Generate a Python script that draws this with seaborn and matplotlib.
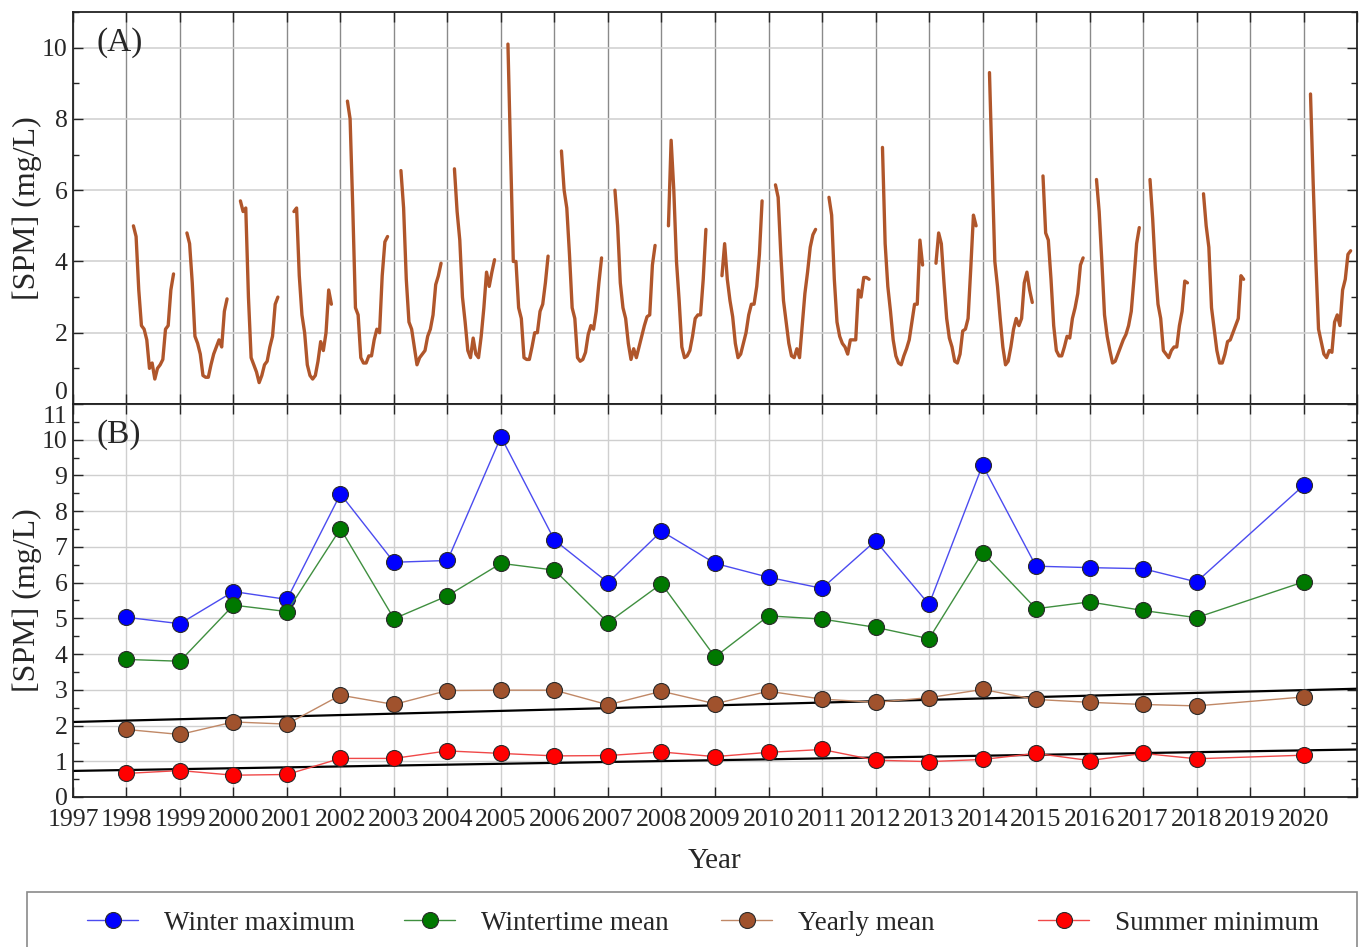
import numpy as np
import pandas as pd
import matplotlib.pyplot as plt
from matplotlib.ticker import MultipleLocator
from matplotlib.patches import Rectangle
from matplotlib.transforms import ScaledTranslation
import seaborn as sns

sns.set_style('ticks')
plt.rcParams['font.family'] = ['Liberation Serif', 'DejaVu Serif']

# ---- Panel A: SPM time series, sampled at these fractions of each year ----
year_frac = [0.13, 0.18, 0.23, 0.28, 0.33, 0.38, 0.43, 0.48, 0.53,
             0.58, 0.63, 0.68, 0.73, 0.78, 0.83, 0.88, 0.93]

spm_1998 = [5.0, 4.7, 3.2, 2.2, 2.1, 1.8, 1.0, 1.15, 0.7, 1.0, 1.1, 1.25, 2.1, 2.2, 3.2, 3.65]
spm_1999 = [4.8, 4.5, 3.4, 1.9, 1.7, 1.4, 0.8, 0.75, 0.75, 1.1, 1.4, 1.6, 1.8, 1.6, 2.6, 2.95]
spm_2000 = [5.7, 5.4, 5.5, 3.0, 1.3, 1.1, 0.9, 0.6, 0.8, 1.1, 1.2, 1.6, 1.9, 2.8, 3.0]
spm_2001 = [5.4, 5.5, 3.6, 2.5, 2.0, 1.1, 0.8, 0.7, 0.8, 1.2, 1.75, 1.5, 2.0, 3.2, 2.8]
spm_2002 = [8.5, 8.0, 5.5, 2.7, 2.5, 1.3, 1.15, 1.15, 1.35, 1.35, 1.8, 2.1, 2.0, 3.6, 4.55, 4.7]
spm_2003 = [6.55, 5.5, 3.5, 2.3, 2.1, 1.6, 1.1, 1.3, 1.4, 1.5, 1.9, 2.1, 2.5, 3.35, 3.6, 3.95]
spm_2004 = [6.6, 5.4, 4.6, 3.0, 2.3, 1.5, 1.3, 1.85, 1.4, 1.3, 1.9, 2.7, 3.7, 3.3, 3.7, 4.05]
spm_2005 = [10.1, 7.0, 4.0, 4.0, 2.7, 2.4, 1.3, 1.25, 1.25, 1.6, 2.0, 2.0, 2.6, 2.8, 3.4, 4.15]
spm_2006 = [7.1, 6.0, 5.5, 4.2, 2.7, 2.4, 1.3, 1.2, 1.25, 1.45, 1.95, 2.2, 2.1, 2.6, 3.4, 4.1]
spm_2007 = [6.0, 5.0, 3.4, 2.7, 2.4, 1.7, 1.25, 1.55, 1.3, 1.6, 1.9, 2.2, 2.45, 2.5, 3.9, 4.45]
spm_2008 = [5.0, 7.4, 6.0, 4.0, 2.9, 1.6, 1.3, 1.35, 1.5, 1.9, 2.4, 2.5, 2.5, 3.5, 4.9]
spm_2009 = [3.6, 4.5, 3.5, 2.9, 2.45, 1.7, 1.3, 1.4, 1.7, 2.0, 2.5, 2.8, 2.8, 3.3, 4.2, 5.7]
spm_2010 = [6.15, 5.8, 4.2, 2.9, 2.3, 1.7, 1.35, 1.3, 1.55, 1.3, 2.2, 3.1, 3.7, 4.4, 4.75, 4.9]
spm_2011 = [5.8, 5.3, 3.5, 2.3, 1.9, 1.7, 1.6, 1.4, 1.8, 1.8, 1.8, 3.2, 3.0, 3.55, 3.55, 3.5]
spm_2012 = [7.2, 4.5, 3.3, 2.6, 1.8, 1.35, 1.15, 1.1, 1.35, 1.55, 1.8, 2.3, 2.8, 2.8, 4.6, 3.9]
spm_2013 = [3.95, 4.8, 4.5, 3.4, 2.4, 1.85, 1.6, 1.2, 1.15, 1.4, 2.05, 2.1, 2.4, 3.8, 5.3, 5.0]
spm_2014 = [9.3, 6.6, 4.0, 3.3, 2.4, 1.6, 1.1, 1.2, 1.6, 2.1, 2.4, 2.2, 2.4, 3.4, 3.7, 3.2, 2.85]
spm_2015 = [6.4, 4.8, 4.6, 3.5, 2.2, 1.5, 1.35, 1.35, 1.6, 1.9, 1.85, 2.4, 2.7, 3.1, 3.9, 4.1]
spm_2016 = [6.3, 5.4, 4.0, 2.5, 1.9, 1.5, 1.15, 1.2, 1.4, 1.6, 1.8, 1.95, 2.2, 2.6, 3.5, 4.5, 4.95]
spm_2017 = [6.3, 5.2, 3.8, 2.8, 2.4, 1.5, 1.4, 1.3, 1.5, 1.6, 1.6, 2.2, 2.6, 3.45, 3.4]
spm_2018 = [5.9, 5.0, 4.4, 2.7, 2.1, 1.5, 1.15, 1.15, 1.4, 1.75, 1.8, 2.0, 2.2, 2.4, 3.6, 3.5]
spm_2020 = [8.7, 6.2, 4.0, 2.1, 1.75, 1.4, 1.3, 1.5, 1.45, 2.3, 2.5, 2.2, 3.2, 3.5, 4.2, 4.3]

years_a = [1998, 1999, 2000, 2001, 2002, 2003, 2004, 2005, 2006, 2007, 2008,
           2009, 2010, 2011, 2012, 2013, 2014, 2015, 2016, 2017, 2018, 2020]
series_a = [spm_1998, spm_1999, spm_2000, spm_2001, spm_2002, spm_2003, spm_2004,
            spm_2005, spm_2006, spm_2007, spm_2008, spm_2009, spm_2010, spm_2011,
            spm_2012, spm_2013, spm_2014, spm_2015, spm_2016, spm_2017, spm_2018,
            spm_2020]

# ---- Panel B: yearly statistics ----
years_b = [1998, 1999, 2000, 2001, 2002, 2003, 2004, 2005, 2006, 2007, 2008,
           2009, 2010, 2011, 2012, 2013, 2014, 2015, 2016, 2017, 2018, 2020]
winter_max = [5.03, 4.85, 5.75, 5.53, 8.48, 6.57, 6.62, 10.08, 7.19, 6.0, 7.44,
              6.54, 6.15, 5.84, 7.17, 5.39, 9.29, 6.46, 6.42, 6.39, 6.02, 8.72]
winter_mean = [3.85, 3.8, 5.37, 5.19, 7.51, 4.99, 5.63, 6.54, 6.35, 4.88, 5.97,
               3.92, 5.07, 4.98, 4.75, 4.43, 6.84, 5.27, 5.46, 5.22, 5.02, 6.02]
yearly_mean = [1.89, 1.75, 2.1, 2.04, 2.85, 2.59, 2.98, 2.99, 2.99, 2.58, 2.96,
               2.61, 2.96, 2.74, 2.65, 2.78, 3.01, 2.73, 2.65, 2.59, 2.55, 2.8]
summer_min = [0.66, 0.74, 0.61, 0.63, 1.08, 1.08, 1.29, 1.22, 1.15, 1.16, 1.26,
              1.13, 1.25, 1.33, 1.03, 0.99, 1.05, 1.22, 1.02, 1.22, 1.07, 1.17]

trend_years = [1997, 2021]
trend_yearly_mean = [2.10, 3.03]
trend_summer_min = [0.73, 1.33]

# long table for panel A
rows = []
for yr, vals in zip(years_a, series_a):
    for f, v in zip(year_frac, vals):
        rows.append({'time': yr + f, 'spm': v, 'season': yr})
df_a = pd.DataFrame(rows)

fig = plt.figure(figsize=(13.61, 9.47), dpi=100)
ax_a = fig.add_axes([0.0536, 0.5734, 0.9435, 0.4139])
ax_b = fig.add_axes([0.0536, 0.1584, 0.9435, 0.4150])

# 1. Panel A ----------------------
sns.lineplot(data=df_a, x='time', y='spm', units='season', estimator=None,
             color='#b0562b', linewidth=2.4, ax=ax_a)
ax_a.set_xlim(1997, 2021)
ax_a.set_ylim(0, 11)
ax_a.set_xticks(range(1997, 2022))
ax_a.set_xticklabels([])
ax_a.yaxis.set_major_locator(MultipleLocator(2))
ax_a.yaxis.set_minor_locator(MultipleLocator(1))
ax_a.grid(axis='x', color='#8a8a8a', linewidth=1.0)
ax_a.grid(axis='y', color='#d2d2d2', linewidth=1.2)
ax_a.set_xlabel('')
ax_a.set_ylabel('[SPM] (mg/L)', fontsize=23)
ax_a.text(0.018, 0.923, '(A)', transform=ax_a.transAxes, fontsize=24, va='center')

# 2. Panel B ----------------------
b_styles = [
    (winter_max, 'Winter maximum', '#4b4bf0', '#0000ff'),
    (winter_mean, 'Wintertime mean', '#3f8f3f', '#007800'),
    (yearly_mean, 'Yearly mean', '#c08866', '#a0522d'),
    (summer_min, 'Summer minimum', '#f04848', '#ff0000'),
]
for vals, lab, lc, mc in b_styles:
    sns.lineplot(x=years_b, y=vals, color=lc, linewidth=1.0, marker='o',
                 markersize=11.5, markerfacecolor=mc, markeredgecolor='#2a2a2a',
                 markeredgewidth=0.8, label=lab, ax=ax_b, zorder=3)
sns.lineplot(x=trend_years, y=trend_yearly_mean, color='black', linewidth=1.6, ax=ax_b, zorder=2)
sns.lineplot(x=trend_years, y=trend_summer_min, color='black', linewidth=1.6, ax=ax_b, zorder=2)
if ax_b.get_legend() is not None:
    ax_b.get_legend().remove()

ax_b.set_xlim(1997, 2021)
ax_b.set_ylim(0, 11)
ax_b.set_xticks(range(1997, 2022))
ax_b.set_xticklabels([str(y) for y in range(1997, 2021)] + [''])
ax_b.yaxis.set_major_locator(MultipleLocator(1))
ax_b.yaxis.set_minor_locator(MultipleLocator(0.5))
ax_b.grid(color='#cfcfcf', linewidth=1.0)
ax_b.set_xlabel('Year', fontsize=21, labelpad=12)
ax_b.set_ylabel('[SPM] (mg/L)', fontsize=23)
ax_b.text(0.018, 0.923, '(B)', transform=ax_b.transAxes, fontsize=24, va='center')

for ax in (ax_a, ax_b):
    ax.set_axisbelow(True)
    ax.tick_params(which='both', direction='in', top=True, right=True, labelsize=18.5)
    ax.tick_params(which='major', length=7, width=1.0)
    ax.tick_params(which='minor', length=4, width=1.0)
    ax.tick_params(axis='x', pad=9)
    ax.tick_params(axis='y', pad=4)
    for s in ax.spines.values():
        s.set_linewidth(1.3)
        s.set_color('#222222')
    ax.yaxis.set_label_coords(-0.024, 0.5)

fig.canvas.draw()
# keep the 0 of panel A and the 11 of panel B apart
for t in ax_a.get_yticklabels():
    if t.get_text() == '0':
        t.set_va('bottom')
for t in ax_b.get_yticklabels():
    if t.get_text() == '11':
        t.set_va('top')
        t.set_transform(t.get_transform() + ScaledTranslation(0, -1.5 / 72, fig.dpi_scale_trans))

# legend: box across the bottom, four evenly spaced entries
fig.add_artist(Rectangle((27 / 1361, -0.05), 1330 / 1361, 0.058 + 0.05,
                         transform=fig.transFigure, fill=False,
                         edgecolor='#8a8a8a', linewidth=1.2))
handles, labels = ax_b.get_legend_handles_labels()
entry_x = [87, 404, 721, 1038]
for h, l, xpx in zip(handles[:4], labels[:4], entry_x):
    fig.legend([h], [l], loc='center left', bbox_to_anchor=(xpx / 1361, 1 - 923 / 947),
               frameon=False, fontsize=19.5, handlelength=1.9, handletextpad=0.95,
               borderpad=0.0, borderaxespad=0.0)

fig.savefig('out.png', dpi=100)
